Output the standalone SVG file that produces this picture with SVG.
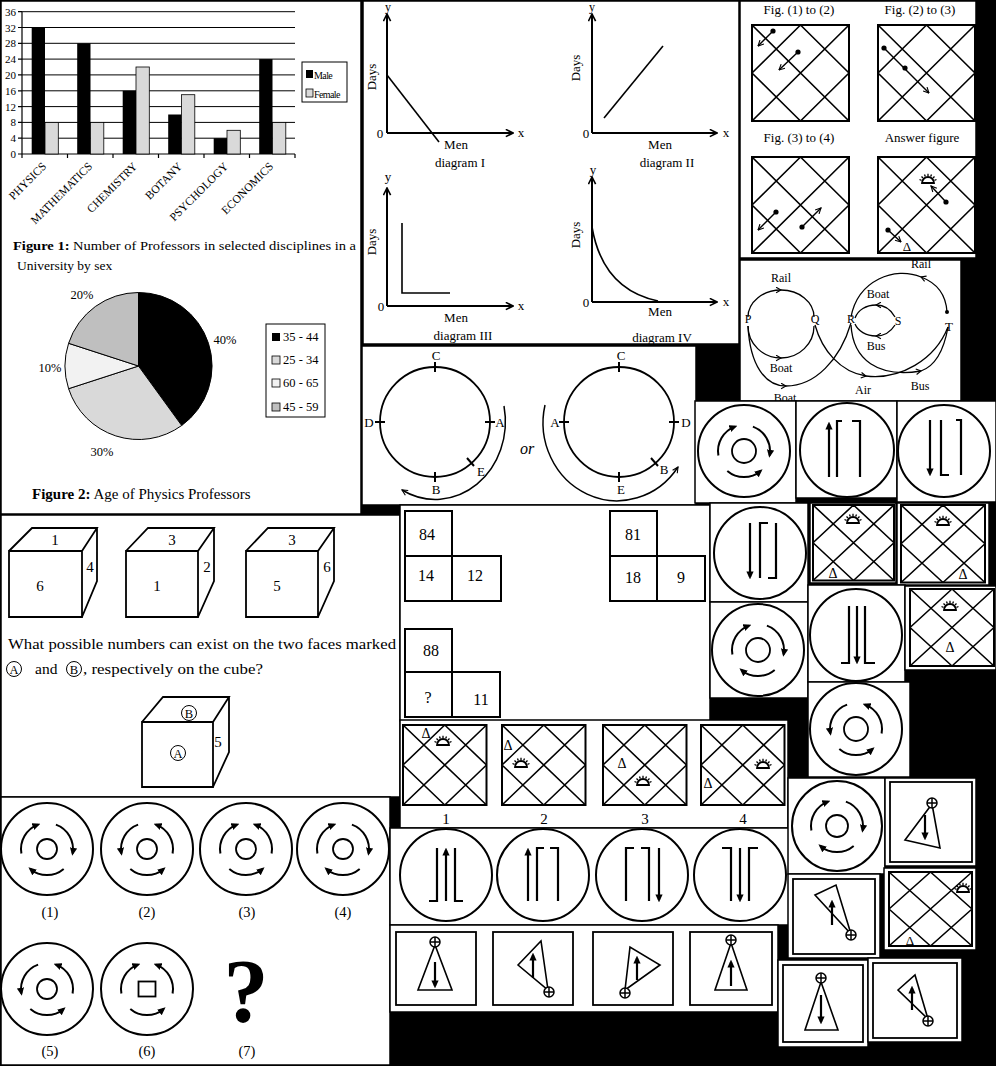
<svg xmlns="http://www.w3.org/2000/svg" xmlns:xlink="http://www.w3.org/1999/xlink" width="996" height="1066" viewBox="0 0 996 1066">
<style>
text{font-family:"Liberation Serif","Times New Roman",serif;fill:#000}
.pn{fill:#fff;stroke:#000;stroke-width:1.5}
.ln{fill:none;stroke:#000;stroke-width:1.6}
.ax{fill:none;stroke:#000;stroke-width:2;marker-end:url(#oa)}
.oc{fill:none;stroke:#000;stroke-width:2}
.ic{fill:none;stroke:#000;stroke-width:1.8}
.br{fill:none;stroke:#000;stroke-width:2.2}
.ar{fill:none;stroke:#000;stroke-width:2.2;marker-end:url(#ah)}
.sm{fill:none;stroke:#000;stroke-width:1.4;marker-end:url(#ah2)}
.rl{fill:none;stroke:#000;stroke-width:1.3}
.rla{fill:none;stroke:#000;stroke-width:1.3;marker-end:url(#sa)}
.dot{fill:#000}
.tri{fill:none;stroke:#000;stroke-width:1.6}
.c{text-anchor:middle}
</style>
<defs>
<marker id="ah" viewBox="0 0 10 10" refX="7" refY="5" markerWidth="8" markerHeight="8" markerUnits="userSpaceOnUse" orient="auto"><path d="M0 0.5L10 5L0 9.5z" fill="#000"/></marker>
<marker id="ah2" viewBox="0 0 10 10" refX="9" refY="5" markerWidth="7" markerHeight="7" markerUnits="userSpaceOnUse" orient="auto"><path d="M1 1L9 5L1 9" fill="none" stroke="#000" stroke-width="1.6"/></marker>
<marker id="oa" viewBox="0 0 10 10" refX="9" refY="5" markerWidth="9" markerHeight="9" markerUnits="userSpaceOnUse" orient="auto"><path d="M1 1L9 5L1 9" fill="none" stroke="#000" stroke-width="1.8"/></marker>
<marker id="sa" viewBox="0 0 10 10" refX="8" refY="5" markerWidth="7" markerHeight="7" markerUnits="userSpaceOnUse" orient="auto"><path d="M1 1L8 5L1 9" fill="none" stroke="#000" stroke-width="1.6"/></marker>
<path id="lcw" d="M-25.6 4.5A26 26 0 0 1-8.9-24.4" fill="none" stroke="#000" stroke-width="2" marker-end="url(#ah)"/>
<path id="lccw" d="M-8.9-24.4A26 26 0 0 0-25.6 4.5" fill="none" stroke="#000" stroke-width="2" marker-end="url(#ah)"/>
<path id="rcw" d="M8.9-24.4A26 26 0 0 1 25.6 4.5" fill="none" stroke="#000" stroke-width="2" marker-end="url(#ah)"/>
<path id="rccw" d="M25.6 4.5A26 26 0 0 0 8.9-24.4" fill="none" stroke="#000" stroke-width="2" marker-end="url(#ah)"/>
<path id="bcw" d="M16.7 19.9A26 26 0 0 1-16.7 19.9" fill="none" stroke="#000" stroke-width="2" marker-end="url(#ah)"/>
<path id="bccw" d="M-16.7 19.9A26 26 0 0 0 16.7 19.9" fill="none" stroke="#000" stroke-width="2" marker-end="url(#ah)"/>
<g id="grid"><rect width="100" height="100" fill="none" stroke="#000" stroke-width="2" vector-effect="non-scaling-stroke"/><path d="M0 0L100 100M100 0L0 100M50 0L0 50M50 0L100 50M0 50L50 100M100 50L50 100" fill="none" stroke="#000" stroke-width="1.6" vector-effect="non-scaling-stroke"/></g>
<g id="sun"><path d="M-6 0A6 6 0 0 1 6 0Z" fill="none" stroke="#000" stroke-width="1.8"/><path d="M-6.5-2.7L-8.5-3.5M-5-5L-6.5-6.5M-2.7-6.5L-3.5-8.5M0-7V-9.2M2.7-6.5L3.5-8.5M5-5L6.5-6.5M6.5-2.7L8.5-3.5" fill="none" stroke="#000" stroke-width="1.3"/></g>
<g id="op"><circle r="5" fill="#fff" stroke="#000" stroke-width="1.5"/><path d="M-5 0H5M0-5V5" stroke="#000" stroke-width="1.5"/></g>
</defs>

<rect width="996" height="1066" fill="#000"/>

<!-- Panel A: bar chart and pie chart -->
<g id="bar-chart">
<rect class="pn" x="1" y="1" width="360" height="513"/>
<path d="M22 11.7H295M22 27.5H295M22 43.3H295M22 59.1H295M22 74.9H295M22 90.8H295M22 106.6H295M22 122.4H295M22 138.2H295" stroke="#000" stroke-width="1" fill="none"/>
<path d="M22 11.7V154H295M18 11.7H22M18 27.5H22M18 43.3H22M18 59.1H22M18 74.9H22M18 90.8H22M18 106.6H22M18 122.4H22M18 138.2H22M18 154H22M22 154V158M67.5 154V158M113 154V158M158.5 154V158M204 154V158M249.5 154V158M295 154V158" stroke="#000" stroke-width="1.2" fill="none"/>
<g font-size="11" text-anchor="end">
<text x="16" y="15.7">36</text><text x="16" y="31.5">32</text><text x="16" y="47.3">28</text><text x="16" y="63.1">24</text><text x="16" y="78.9">20</text><text x="16" y="94.8">16</text><text x="16" y="110.6">12</text><text x="16" y="126.4">8</text><text x="16" y="142.2">4</text><text x="16" y="158">0</text>
</g>
<g fill="#000">
<rect x="31.7" y="27.5" width="13.3" height="126.5"/>
<rect x="77.2" y="43.3" width="13.3" height="110.7"/>
<rect x="122.7" y="90.8" width="13.3" height="63.2"/>
<rect x="168.2" y="114.5" width="13.3" height="39.5"/>
<rect x="213.7" y="138.2" width="13.3" height="15.8"/>
<rect x="259.2" y="59.1" width="13.3" height="94.9"/>
</g>
<g fill="#d9d9d9" stroke="#000" stroke-width="0.8">
<rect x="45" y="122.4" width="13.3" height="31.6"/>
<rect x="90.5" y="122.4" width="13.3" height="31.6"/>
<rect x="136" y="67" width="13.3" height="87"/>
<rect x="181.5" y="94.7" width="13.3" height="59.3"/>
<rect x="227" y="130.3" width="13.3" height="23.7"/>
<rect x="272.5" y="122.4" width="13.3" height="31.6"/>
</g>
<rect x="302" y="62" width="45" height="40" fill="#fff" stroke="#000" stroke-width="1"/>
<rect x="306" y="70" width="7" height="8" fill="#000"/>
<rect x="306" y="89" width="7" height="8" fill="#d9d9d9" stroke="#000" stroke-width="0.8"/>
<text x="314" y="78.5" font-size="10" letter-spacing="-0.6">Male</text>
<text x="314" y="97.5" font-size="10" letter-spacing="-0.6">Female</text>
<g font-size="11.5" text-anchor="end">
<text x="47" y="167" transform="rotate(-45 47 167)">PHYSICS</text>
<text x="93" y="167" transform="rotate(-45 93 167)">MATHEMATICS</text>
<text x="138" y="167" transform="rotate(-45 138 167)">CHEMISTRY</text>
<text x="183" y="167" transform="rotate(-45 183 167)">BOTANY</text>
<text x="229" y="167" transform="rotate(-45 229 167)">PSYCHOLOGY</text>
<text x="274" y="167" transform="rotate(-45 274 167)">ECONOMICS</text>
</g>
<text x="13" y="250" font-size="13.5" textLength="343" lengthAdjust="spacingAndGlyphs"><tspan font-weight="bold">Figure 1:</tspan> Number of Professors in selected disciplines in a</text>
<text x="17" y="270" font-size="13.5">University by sex</text>
</g>

<g id="pie-chart">
<path d="M138.5 366L138.5 292.5A73.5 73.5 0 0 1 181.7 425.5Z" fill="#000" stroke="#000"/>
<path d="M138.5 366L181.7 425.5A73.5 73.5 0 0 1 68.6 388.7Z" fill="#d9d9d9" stroke="#000"/>
<path d="M138.5 366L68.6 388.7A73.5 73.5 0 0 1 68.6 343.3Z" fill="#f2f2f2" stroke="#000"/>
<path d="M138.5 366L68.6 343.3A73.5 73.5 0 0 1 138.5 292.5Z" fill="#bfbfbf" stroke="#000"/>
<g font-size="12.5">
<text x="82" y="299" class="c">20%</text><text x="225" y="344" class="c">40%</text><text x="50" y="372" class="c">10%</text><text x="102" y="456" class="c">30%</text>
</g>
<rect x="266" y="324" width="59" height="93" fill="#fff" stroke="#000" stroke-width="1"/>
<rect x="272" y="333" width="8" height="8" fill="#000"/>
<rect x="272" y="356" width="8" height="8" fill="#d9d9d9" stroke="#000" stroke-width="0.8"/>
<rect x="272" y="379" width="8" height="8" fill="#f2f2f2" stroke="#000" stroke-width="0.8"/>
<rect x="272" y="403" width="8" height="8" fill="#bfbfbf" stroke="#000" stroke-width="0.8"/>
<g font-size="12.5"><text x="283" y="341">35 - 44</text><text x="283" y="364">25 - 34</text><text x="283" y="387">60 - 65</text><text x="283" y="411">45 - 59</text></g>
<text x="32" y="499" font-size="15"><tspan font-weight="bold">Figure 2:</tspan> Age of Physics Professors</text>
</g>

<!-- Panel B: graphs -->
<g id="graphs">
<rect class="pn" x="363" y="1" width="376" height="343"/>
<g font-size="13">
<path class="ax" d="M387 133V14"/><path class="ax" d="M387 133H513"/>
<path class="ln" d="M387 75L439 142" stroke-width="1.8"/>
<text x="388" y="11" class="c" font-size="12">y</text><text x="521" y="137" class="c">x</text><text x="380" y="138" class="c">0</text>
<text transform="translate(376 77) rotate(-90)" class="c">Days</text>
<text x="456" y="149" class="c">Men</text><text x="460" y="167" class="c">diagram I</text>

<path class="ax" d="M592 133V14"/><path class="ax" d="M592 133H717"/>
<path class="ln" d="M604 118L663 46" stroke-width="1.8"/>
<text x="592" y="11" class="c" font-size="12">y</text><text x="726" y="137" class="c">x</text><text x="586" y="138" class="c">0</text>
<text transform="translate(580 68) rotate(-90)" class="c">Days</text>
<text x="660" y="149" class="c">Men</text><text x="667" y="167" class="c">diagram II</text>

<path class="ax" d="M387 306V188"/><path class="ax" d="M387 306H513"/>
<path class="ln" d="M402 223V293H450" stroke-width="1.8"/>
<text x="388" y="181" class="c">y</text><text x="521" y="310" class="c">x</text><text x="381" y="311" class="c">0</text>
<text transform="translate(376 242) rotate(-90)" class="c">Days</text>
<text x="456" y="322" class="c">Men</text><text x="463" y="340" class="c">diagram III</text>

<path class="ax" d="M592 302V177"/><path class="ax" d="M592 302H717"/>
<path class="ln" d="M592 227C598 262 615 292 658 301" stroke-width="1.8"/>
<text x="593" y="174" class="c">y</text><text x="726" y="306" class="c">x</text><text x="586" y="307" class="c">0</text>
<text transform="translate(580 235) rotate(-90)" class="c">Days</text>
<text x="660" y="316" class="c">Men</text><text x="662" y="342" class="c">diagram IV</text>
</g>
</g>

<!-- Panel C: figure grids -->
<g id="fig-grids">
<rect class="pn" x="740" y="1" width="236" height="257"/>
<g font-size="13">
<text x="799" y="14" class="c">Fig. (1) to (2)</text><text x="920" y="14" class="c">Fig. (2) to (3)</text>
<text x="799" y="142" class="c">Fig. (3) to (4)</text><text x="922" y="142" class="c">Answer figure</text>
</g>
<use href="#grid" transform="translate(752 25) scale(0.97 0.96)"/>
<use href="#grid" transform="translate(878 25) scale(0.97 0.96)"/>
<use href="#grid" transform="translate(752 157) scale(0.97 0.96)"/>
<use href="#grid" transform="translate(878 157) scale(0.97 0.96)"/>
<circle class="dot" cx="773" cy="31" r="2.6"/><path class="sm" d="M773 31L758 46"/>
<circle class="dot" cx="798" cy="52" r="2.6"/><path class="sm" d="M798 52L779 70"/>
<circle class="dot" cx="884" cy="48" r="2.6"/><circle class="dot" cx="905" cy="68" r="2.6"/><path class="sm" d="M884 48L929 93"/>
<circle class="dot" cx="776" cy="212" r="2.6"/><path class="sm" d="M776 212L758 230"/>
<circle class="dot" cx="802" cy="227" r="2.6"/><path class="sm" d="M802 227L821 208"/>
<use href="#sun" x="928" y="183"/>
<circle class="dot" cx="946" cy="202" r="2.6"/><path class="sm" d="M946 202L931 186"/>
<circle class="dot" cx="888" cy="230" r="2.6"/><path class="sm" d="M888 230L901 242"/>
<text x="907" y="251" font-size="13" class="c">Δ</text>
</g>

<!-- Panel D: route network -->
<g id="route-network">
<rect class="pn" x="740" y="260" width="221" height="141"/>
<g font-size="12">
<text x="748" y="323" class="c">P</text><text x="815" y="323" class="c">Q</text><text x="851" y="323" class="c">R</text><text x="898" y="325" class="c">S</text><text x="949" y="331" font-size="13" class="c">T</text>
<text x="781" y="282" class="c">Rail</text><text x="921" y="268" class="c">Rail</text>
<text x="878" y="298" class="c">Boat</text><text x="876" y="350" class="c">Bus</text>
<text x="781" y="372" class="c">Boat</text><text x="863" y="394" class="c">Air</text><text x="920" y="390" class="c">Bus</text>
<text x="785" y="402" class="c">Boat</text>
</g>
</g>

<!-- Panel E: circles -->
<g id="circle-track">
<rect class="pn" x="362" y="346" width="334" height="159"/>
<circle cx="435" cy="422" r="55" class="ic" stroke-width="1.5"/>
<path d="M435 362V372M375 422H385M485 422H495M435 472V482M467 458L474 466" stroke="#000" stroke-width="2"/>
<path d="M504 406A70 78 0 0 1 402 490" fill="none" stroke="#000" stroke-width="1.5" marker-end="url(#ah2)"/>
<g font-size="13">
<text x="436" y="360" class="c">C</text><text x="369" y="427" class="c">D</text><text x="500" y="427" class="c">A</text><text x="436" y="494" class="c">B</text><text x="481" y="476" class="c">E</text>
</g>
<text x="527" y="454" font-size="16" font-style="italic" class="c">or</text>
<circle cx="619" cy="422" r="55" class="ic" stroke-width="1.5"/>
<path d="M619 362V372M559 422H569M669 422H679M619 472V482M651 458L658 466" stroke="#000" stroke-width="2"/>
<path d="M545 405A74 78 0 0 0 678 467" fill="none" stroke="#000" stroke-width="1.5" marker-end="url(#ah2)"/>
<g font-size="13">
<text x="621" y="360" class="c">C</text><text x="555" y="427" class="c">A</text><text x="686" y="427" class="c">D</text><text x="621" y="494" class="c">E</text><text x="664" y="474" class="c">B</text>
</g>
</g>

<g id="rot-f1"><rect class="pn" x="695" y="401" width="101" height="102"/>
<g transform="translate(744 451)"><circle r="46" class="oc"/><circle r="12" class="ic"/><use href="#lcw"/><use href="#rcw"/><use href="#bccw"/></g></g>
<g id="line-f2"><rect class="pn" x="796" y="401" width="101" height="97"/>
<circle cx="847" cy="450" r="47" class="oc"/><path class="ar" d="M829 477V424"/><path class="br" d="M837 477V421H842M852 421H860V477"/></g>
<g id="line-f3"><rect class="pn" x="897" y="401" width="99" height="101"/>
<circle cx="944" cy="451" r="46" class="oc"/><path class="ar" d="M930 420V474"/><path class="br" d="M941 420V475H949M956 420H961V475"/></g>

<!-- Panel G: cubes -->
<g id="cubes">
<rect class="pn" x="1" y="515" width="399" height="282"/>
<g fill="none" stroke="#000" stroke-width="1.8">
<path d="M9 551H82V617H9ZM9 551L32 528H97L82 551M97 528V581L82 617"/>
<path d="M126 551H198V617H126ZM126 551L148 528H214L198 551M214 528V581L198 617"/>
<path d="M246 551H318V617H246ZM246 551L268 528H334L318 551M334 528V581L318 617"/>
<path d="M142 722H213V787H142ZM142 722L163 697H229L213 722M229 697V752L213 787"/>
</g>
<g font-size="15">
<text x="55" y="545" class="c">1</text><text x="90" y="572" class="c">4</text><text x="40" y="591" class="c">6</text>
<text x="172" y="545" class="c">3</text><text x="207" y="572" class="c">2</text><text x="157" y="591" class="c">1</text>
<text x="292" y="545" class="c">3</text><text x="327" y="572" class="c">6</text><text x="277" y="591" class="c">5</text>
<text x="218" y="747" class="c">5</text>
</g>
<circle cx="189" cy="713" r="7.5" fill="none" stroke="#000" stroke-width="1"/><text x="189" y="717.5" font-size="12.5" class="c">B</text>
<circle cx="178" cy="753" r="7.5" fill="none" stroke="#000" stroke-width="1"/><text x="178" y="757.5" font-size="12.5" class="c">A</text>
<text x="8" y="649" font-size="15.5" textLength="388" lengthAdjust="spacingAndGlyphs">What possible numbers can exist on the two faces marked</text>
<circle cx="14" cy="669" r="7.5" fill="none" stroke="#000" stroke-width="1"/><text x="14" y="673.5" font-size="12.5" class="c">A</text>
<text x="35" y="674" font-size="15.5">and</text>
<circle cx="74" cy="669" r="7.5" fill="none" stroke="#000" stroke-width="1"/><text x="74" y="673.5" font-size="12.5" class="c">B</text>
<text x="83" y="674" font-size="15.5" textLength="180" lengthAdjust="spacingAndGlyphs">, respectively on the cube?</text>
</g>

<!-- Panel H: number figures -->
<g id="number-figures">
<rect class="pn" x="400" y="505" width="310" height="216"/>
<g fill="none" stroke="#000" stroke-width="2">
<path d="M405 556V511H452V601M405 556H501V601H405Z"/>
<path d="M610 556V511H657V601M610 556H705V601H610Z"/>
<path d="M405 672V629H452V717M405 672H500V717H405Z"/>
</g>
<g font-size="16">
<text x="427" y="540" class="c">84</text><text x="426" y="581" class="c">14</text><text x="475" y="581" class="c">12</text>
<text x="633" y="540" class="c">81</text><text x="633" y="583" class="c">18</text><text x="681" y="583" class="c">9</text>
<text x="431" y="656" class="c">88</text><text x="428" y="703" class="c">?</text><text x="481" y="705" class="c">11</text>
</g>
</g>

<g id="line-k1"><rect class="pn" x="710" y="503" width="98" height="99"/>
<circle cx="760" cy="553" r="46" class="oc"/><path class="ar" d="M750 523V577"/><path class="br" d="M760 578V523H768M768 578H776V523"/></g>
<g id="grid-k2"><rect class="pn" x="810" y="503" width="86" height="80"/>
<use href="#grid" transform="translate(813 505) scale(0.81 0.755)"/><use href="#sun" x="853" y="523"/><text x="833" y="578" font-size="14" class="c">Δ</text></g>
<g id="grid-k3"><rect class="pn" x="897" y="503" width="92" height="82"/>
<use href="#grid" transform="translate(901 505) scale(0.84 0.775)"/><use href="#sun" x="943" y="525"/><text x="963" y="579" font-size="14" class="c">Δ</text></g>
<g id="rot-k4"><rect class="pn" x="710" y="602" width="98" height="96"/>
<g transform="translate(758 650)"><circle r="46" class="oc"/><circle r="12" class="ic"/><use href="#lcw"/><use href="#rcw"/><use href="#bcw"/></g></g>
<g id="line-k5"><rect class="pn" x="808" y="585" width="97" height="97"/>
<circle cx="856" cy="635" r="46" class="oc"/><path class="br" d="M841 663H849V606M865 606V663H875"/><path class="ar" d="M857 606V662"/></g>
<g id="grid-k6"><rect class="pn" x="905" y="586" width="91" height="84"/>
<use href="#grid" transform="translate(910 589) scale(0.84 0.77)"/><use href="#sun" x="950" y="610"/><text x="950" y="652" font-size="14" class="c">Δ</text></g>
<g id="rot-k7"><rect class="pn" x="808" y="682" width="102" height="95"/>
<g transform="translate(856 729)"><circle r="46" class="oc"/><circle r="12" class="ic"/><use href="#lccw"/><use href="#rccw"/><use href="#bccw"/></g></g>

<!-- Panel I: answer grids -->
<g id="answer-grids">
<rect class="pn" x="400" y="720" width="388" height="108"/>
<use href="#grid" transform="translate(403 725) scale(0.835 0.8)"/>
<use href="#grid" transform="translate(502 725) scale(0.835 0.8)"/>
<use href="#grid" transform="translate(603 725) scale(0.835 0.8)"/>
<use href="#grid" transform="translate(701 725) scale(0.835 0.8)"/>
<use href="#sun" x="443" y="745"/><use href="#sun" x="521" y="767"/><use href="#sun" x="643" y="785"/><use href="#sun" x="763" y="768"/>
<g font-size="14"><text x="426" y="738" class="c">Δ</text><text x="508" y="750" class="c">Δ</text><text x="622" y="768" class="c">Δ</text><text x="708" y="788" class="c">Δ</text></g>
<g font-size="15"><text x="446" y="824" class="c">1</text><text x="544" y="824" class="c">2</text><text x="645" y="824" class="c">3</text><text x="743" y="824" class="c">4</text></g>
</g>

<!-- Panel J: rotating circles series -->
<g id="series">
<rect class="pn" x="1" y="797" width="389" height="268"/>
<g transform="translate(47 849)"><circle r="46" class="oc"/><circle r="10" class="ic"/><use href="#lcw"/><use href="#rcw"/><use href="#bcw"/></g>
<g transform="translate(147 849)"><circle r="46" class="oc"/><circle r="10" class="ic"/><use href="#lccw"/><use href="#rccw"/><use href="#bccw"/></g>
<g transform="translate(246 849)"><circle r="46" class="oc"/><circle r="10" class="ic"/><use href="#lcw"/><use href="#rccw"/><use href="#bccw"/></g>
<g transform="translate(343 849)"><circle r="46" class="oc"/><circle r="10" class="ic"/><use href="#lcw"/><use href="#rcw"/><use href="#bcw"/></g>
<g transform="translate(47 989)"><circle r="46" class="oc"/><circle r="10" class="ic"/><use href="#lccw"/><use href="#rccw"/><use href="#bccw"/></g>
<g transform="translate(147 989)"><circle r="46" class="oc"/><rect x="-8.5" y="-7.5" width="17" height="15" class="ic"/><use href="#lcw"/><use href="#rccw"/><use href="#bccw"/></g>
<text x="246" y="1022" font-size="90" font-weight="bold" class="c">?</text>
<g font-size="14.5"><text x="50" y="917" class="c">(1)</text><text x="147" y="917" class="c">(2)</text><text x="247" y="917" class="c">(3)</text><text x="343" y="917" class="c">(4)</text>
<text x="50" y="1056" class="c">(5)</text><text x="147" y="1056" class="c">(6)</text><text x="247" y="1056" class="c">(7)</text></g>
</g>

<!-- Panel L: line circles -->
<g id="line-circles">
<rect class="pn" x="390" y="828" width="400" height="97"/>
<circle cx="446" cy="875" r="46" class="oc"/><path class="br" d="M429 901H437V848M455 848V901H463"/><path class="ar" d="M446 901V850"/>
<circle cx="543" cy="875" r="46" class="oc"/><path class="ar" d="M528 901V850"/><path class="br" d="M537 901V848H544M550 848H558V901"/>
<circle cx="642" cy="875" r="46" class="oc"/><path class="br" d="M626 901V848H634M641 848H649V901"/><path class="ar" d="M659 848V900"/>
<circle cx="740" cy="875" r="46" class="oc"/><path class="br" d="M722 848H731V901M749 901V848H758"/><path class="ar" d="M740 848V900"/>
</g>

<!-- Panel M: triangles -->
<g id="triangles">
<rect class="pn" x="390" y="925" width="388" height="87"/>
<rect x="396" y="932" width="80" height="73" class="ic"/><rect x="493" y="932" width="80" height="73" class="ic"/><rect x="593" y="932" width="80" height="73" class="ic"/><rect x="690" y="932" width="82" height="73" class="ic"/>
<path class="tri" d="M435 945L418 990H452Z"/><path class="ar" d="M435 962V986"/><use href="#op" x="435" y="942"/>
<path class="tri" d="M518 965L541 941L548 990Z"/><path class="ar" d="M533 978V955"/><use href="#op" x="549" y="992"/>
<path class="tri" d="M625 990L630 947L660 965Z"/><path class="ar" d="M637 980V958"/><use href="#op" x="625" y="993"/>
<path class="tri" d="M731 943L715 990H747Z"/><path class="ar" d="M731 986V962"/><use href="#op" x="731" y="940"/>
</g>

<!-- right column -->
<g id="rot-n1"><rect class="pn" x="788" y="778" width="97" height="96"/>
<g transform="translate(837 826)"><circle r="45" class="oc"/><circle r="11" class="ic"/><use href="#lcw"/><use href="#rcw"/><use href="#bcw"/></g></g>
<g id="tri-n2"><rect class="pn" x="885" y="778" width="91" height="88"/><rect x="890" y="782" width="82" height="80" class="ic"/>
<path class="tri" d="M932 804L905 840L940 848Z"/><path class="ar" d="M925 815V838"/><use href="#op" x="932" y="803"/></g>
<g id="tri-n3"><rect class="pn" x="788" y="874" width="92" height="84"/><rect x="793" y="879" width="82" height="75" class="ic"/>
<path class="tri" d="M815 895L836 885L851 934Z"/><path class="ar" d="M832 925V902"/><use href="#op" x="851" y="935"/></g>
<g id="grid-n4"><rect class="pn" x="884" y="868" width="92" height="82"/>
<use href="#grid" transform="translate(889 872) scale(0.83 0.74)"/><use href="#sun" x="963" y="892"/><text x="910" y="945" font-size="13" class="c">Δ</text></g>
<g id="tri-n5"><rect class="pn" x="778" y="960" width="90" height="87"/><rect x="783" y="965" width="80" height="77" class="ic"/>
<path class="tri" d="M821 982L805 1030H838Z"/><path class="ar" d="M821 995V1022"/><use href="#op" x="821" y="978"/></g>
<g id="tri-n6"><rect class="pn" x="868" y="958" width="94" height="84"/><rect x="873" y="963" width="84" height="75" class="ic"/>
<path class="tri" d="M898 990L915 975L928 1019Z"/><path class="ar" d="M912 1010V988"/><use href="#op" x="928" y="1021"/></g>

<g id="connectors">
<path class="rla" d="M748 317A33 27 0 0 1 781 290"/><path class="rl" d="M781 290A33 27 0 0 1 814 317"/>
<path class="rla" d="M748 326A33 32 0 0 0 781 358"/><path class="rl" d="M781 358A33 32 0 0 0 814 326"/>
<path class="rla" d="M748 326C750 365 765 386 786 386"/><path class="rl" d="M786 386C815 386 840 360 851 323"/>
<path class="rla" d="M815 325C822 350 840 372 866 376"/><path class="rl" d="M866 376C900 380 935 360 948 327"/>
<path class="rla" d="M851 325C853 360 878 378 921 371"/><path class="rl" d="M921 371C935 366 944 350 948 327"/>
<path class="rla" d="M947 312C946 295 937 283 921 277"/><path class="rl" d="M921 277C895 266 858 280 851 317"/>
<circle class="dot" cx="947" cy="312" r="2"/>
<path class="rla" d="M895 317C890 308 884 305 876 305"/><path class="rl" d="M876 305C866 305 858 310 855 318"/>
<path class="rla" d="M895 325C890 333 884 336 876 336"/><path class="rl" d="M876 336C866 336 858 331 855 324"/>
</g>
</svg>
